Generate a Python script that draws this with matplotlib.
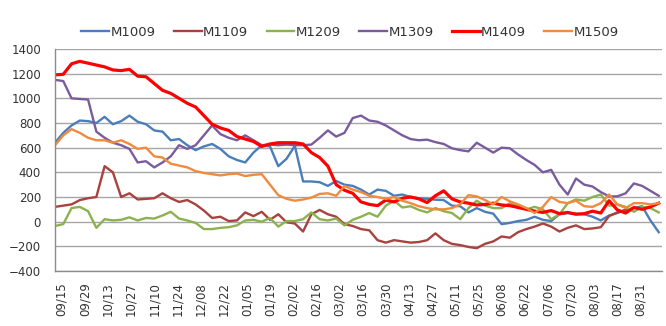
import matplotlib
matplotlib.use('Agg')
import matplotlib.pyplot as plt
import matplotlib.dates as mdates
import numpy as np

# spread values sampled every 5 days, Sep 11 through Sep 10 of the next year
dates = np.datetime64('2013-09-11') + np.arange(74) * np.timedelta64(5, 'D')

m1009 = [640, 720, 780, 820, 815, 800, 850, 790, 815, 860, 810, 790, 740, 730, 660,
         670, 620, 580, 610, 630, 590, 530, 500, 480, 560, 620, 610, 450, 510, 615,
         326, 326, 320, 290, 330, 300, 290, 260, 220, 260, 250, 210, 220, 200, 190,
         185, 178, 175, 130, 125, 75, 110, 80, 65, -20, -10, 5, 15, 40, 15,
         5, 60, 70, 65, 60, 40, 10, 50, 70, 95, 110, 125, 10, -85]

m1109 = [120, 130, 140, 175, 190, 200, 450, 400, 200, 230, 180, 185, 190, 230, 190,
         160, 175, 140, 90, 30, 40, 5, 10, 75, 45, 80, 15, 60, -5, -15,
         -80, 60, 95, 60, 40, -20, -35, -60, -70, -150, -170, -150, -160, -170, -165,
         -150, -95, -150, -180, -190, -205, -215, -180, -160, -120, -130, -85, -60, -40, -15,
         -40, -80, -50, -30, -60, -55, -45, 45, 75, 95, np.nan, np.nan, np.nan, np.nan]

m1209 = [-35, -20, 110, 120, 85, -50, 20, 10, 15, 35, 10, 30, 25, 50, 80,
         25, 10, -10, -60, -60, -50, -45, -30, 10, 15, 0, 30, -40, 5, 5,
         20, 75, 20, 10, 25, -30, 15, 40, 70, 40, 130, 170, 115, 125, 95,
         75, 110, 85, 70, 20, 110, 170, 130, 110, 110, 150, 125, 100, 120, 100,
         20, 60, 150, 180, 170, 200, 220, 130, 140, 120, 80, 120, 110, 75]

m1309 = [1150, 1140, 1000, 995, 990, 730, 680, 640, 620, 590, 480, 490, 440, 480, 530,
         620, 590, 620, 700, 780, 710, 680, 660, 700, 660, 620, 625, 620, 625, 620,
         620, 625, 680, 740, 690, 720, 840, 860, 820, 810, 780, 740, 700, 670, 660,
         665, 645, 630, 595, 580, 570, 640, 600, 560, 600, 595, 545, 500, 460, 400,
         420, 300, 220, 350, 300, 285, 240, 205, 205, 230, 310, 290, 250, 210]

m1409 = [1190, 1195, 1280, 1300, 1285, 1270, 1255, 1230, 1225, 1235, 1180, 1175, 1120, 1065, 1040,
         1000, 960, 930, 860, 790, 760, 740, 690, 670, 650, 610, 630, 640, 640, 640,
         630, 560, 520, 450, 300, 255, 230, 160, 140, 130, 175, 160, 190, 200, 185,
         155, 210, 250, 185, 160, 150, 135, 140, 150, 135, 130, 115, 100, 85, 75,
         90, 65, 75, 60, 65, 85, 70, 170, 95, 70, 115, 100, 120, 150]

m1509 = [620, 700, 750, 720, 680, 660, 660, 640, 660, 630, 590, 600, 530, 520, 470,
         455, 440, 410, 395, 385, 375, 385, 390, 370, 380, 385, 300, 215, 185, 170,
         180, 195, 225, 230, 210, 290, 260, 240, 210, 200, 185, 200, 170, 150, 125,
         110, 100, 100, 110, 140, 215, 205, 175, 140, 200, 165, 140, 110, 70, 120,
         200, 160, 150, 170, 125, 120, 150, 220, 140, 110, 150, 150, 140, 150]

series = [('M1009', m1009, '#4A7EBB', 1.7),
          ('M1109', m1109, '#A9423F', 1.7),
          ('M1209', m1209, '#8CB24F', 1.7),
          ('M1309', m1309, '#7A5C9E', 1.7),
          ('M1409', m1409, '#FF0000', 2.3),
          ('M1509', m1509, '#F08A3C', 1.7)]

fig = plt.figure(figsize=(6.66, 3.26), dpi=100)
ax = fig.add_axes([55 / 666, 1 - 271 / 326, 607 / 666, 222 / 326])

for name, vals, color, lw in series:
    ax.plot(dates, vals, color=color, linewidth=lw, label=name, solid_joinstyle='round')

ax.set_ylim(-400, 1400)
ax.set_yticks(np.arange(-400, 1401, 200))
ax.set_xlim(np.datetime64('2013-09-11'), np.datetime64('2014-09-13'))
ax.set_xticks(np.arange(np.datetime64('2013-09-15'), np.datetime64('2014-09-01'), 14))
ax.xaxis.set_major_formatter(mdates.DateFormatter('%m/%d'))

ax.grid(axis='y', color='#A6A6A6', linewidth=1.0)
ax.set_axisbelow(True)
for side in ['top', 'right']:
    ax.spines[side].set_visible(False)
for side in ['left', 'bottom']:
    ax.spines[side].set_color('#8C8C8C')
    ax.spines[side].set_linewidth(1.0)

ax.tick_params(axis='both', length=0, labelsize=8.5, colors='#333333')
ax.tick_params(axis='y', pad=10)
ax.tick_params(axis='x', pad=8)
plt.setp(ax.get_xticklabels(), rotation=90)

fig.legend(loc='center', bbox_to_anchor=(350 / 666, 1 - 32 / 326), ncol=6, frameon=False,
           fontsize=9.5, handlelength=2.1, handletextpad=0.1, columnspacing=1.4,
           labelcolor='#333333')

fig.savefig('out.png', dpi=100)
